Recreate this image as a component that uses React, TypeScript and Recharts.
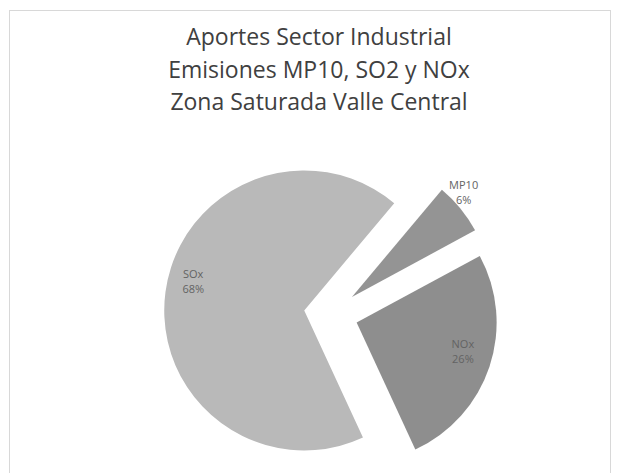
import { Pie, PieChart, Sector, Cell } from 'recharts'

// emission shares
const categories = ['MP10', 'NOx', 'SOx']
const shares = [6, 26, 68]
const sliceColors = ['#949494', '#8e8e8e', '#b9b9b9']

const titleLines = [
   'Aportes Sector Industrial',
   'Emisiones MP10, SO2 y NOx',
   'Zona Saturada Valle Central',
]

const data = categories.map((name, i) => ({ name, value: shares[i] }))

const RADIAN = Math.PI / 180
const EXPLODE = 27

function ExplodedSlice(props: any) {
   const { cx, cy, midAngle, innerRadius, outerRadius, startAngle, endAngle, fill } = props
   const dx = EXPLODE * Math.cos(-midAngle * RADIAN)
   const dy = EXPLODE * Math.sin(-midAngle * RADIAN)
   return (
      <Sector
         cx={cx + dx}
         cy={cy + dy}
         innerRadius={innerRadius}
         outerRadius={outerRadius}
         startAngle={startAngle}
         endAngle={endAngle}
         fill={fill}
         stroke="none"
      />
   )
}

function SliceLabel(props: any) {
   const { cx, cy, midAngle, outerRadius, percent, name } = props
   const ux = Math.cos(-midAngle * RADIAN)
   const uy = Math.sin(-midAngle * RADIAN)
   // small slices get their label outside, like excel's best fit
   const outside = percent < 0.1
   const dist = EXPLODE + outerRadius * (outside ? 1.03 : 0.8)
   const x = cx + dist * ux
   let y = cy + dist * uy
   if (outside) y += Math.sign(uy) * 14
   else y -= 7 + (uy < 0 ? 8 : 0)
   return (
      <text x={x} y={y} textAnchor="middle" fill="#636363" fontSize={11} fontFamily="'Open Sans', sans-serif">
         <tspan x={x} dy={-3}>{name}</tspan>
         <tspan x={x} dy={15}>{`${Math.round(percent * 100)}%`}</tspan>
      </text>
   )
}

export default function App() {
   return (
      <div style={{ position: 'absolute', left: 0, top: 0, width: 620, height: 473, background: '#fff' }}>
         <div
            style={{
               position: 'absolute',
               left: 9,
               top: 10,
               width: 602,
               height: 480,
               border: '1px solid #d8d8d8',
               boxSizing: 'border-box',
            }}
         />
         <div
            style={{
               position: 'absolute',
               left: 0,
               top: 20,
               width: 638,
               textAlign: 'center',
               fontFamily: "'Open Sans', sans-serif",
               fontSize: 23,
               lineHeight: '32.5px',
               color: '#404040',
            }}
         >
            {titleLines.map((t) => (
               <div key={t}>{t}</div>
            ))}
         </div>
         <div style={{ position: 'absolute', left: 0, top: 0 }}>
            <PieChart width={620} height={473}>
               <Pie
                  data={data}
                  dataKey="value"
                  nameKey="name"
                  cx={326}
                  cy={309}
                  outerRadius={140}
                  startAngle={50}
                  endAngle={-310}
                  stroke="none"
                  shape={ExplodedSlice}
                  label={SliceLabel}
                  labelLine={false}
                  isAnimationActive={false}
               >
                  {data.map((d, i) => (
                     <Cell key={d.name} fill={sliceColors[i]} />
                  ))}
               </Pie>
            </PieChart>
         </div>
      </div>
   )
}
